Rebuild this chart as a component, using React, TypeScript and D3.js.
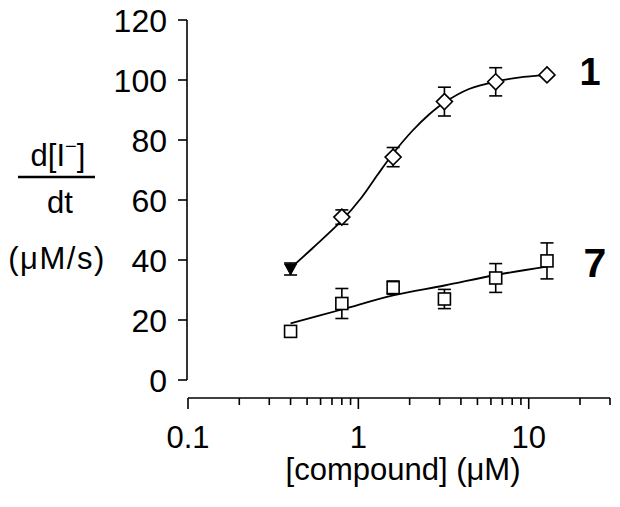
import React from "react";
import * as d3 from "d3";

// measured points (µM, µM/s)
const conc = [0.4, 0.8, 1.6, 3.2, 6.4, 12.8];
const rate1 = [37, 54.3, 74.3, 92.8, 99.4, 101.7];
const err1 = [2, 2.4, 3.2, 4.8, 4.7, 0];
const marker1 = ["triangle", "diamond", "diamond", "diamond", "diamond", "diamond"];
const rate7 = [16.2, 25.5, 30.8, 27, 34, 39.7];
const err7 = [0, 5, 2.2, 3.2, 4.8, 6];

// fitted curves
const fitConc1 = [0.4, 0.54, 0.8, 1.05, 1.3, 1.6, 2.07, 2.6, 3.2, 4.46, 6.4, 8.7, 12.8];
const fitRate1 = [37.3, 44, 53.2, 61, 68.5, 75.5, 83, 88.5, 92.5, 97, 99.5, 100.8, 101.7];
const fitConc7 = [0.4, 0.8, 1.6, 3.2, 6.4, 12.8];
const fitRate7 = [18.9, 23.5, 28.2, 31.5, 35, 37.8];

const yTicks = [0, 20, 40, 60, 80, 100, 120];
const xMajor = [0.1, 1, 10];
const xMajorLabels = ["0.1", "1", "10"];
const xMinor = [0.2, 0.3, 0.4, 0.5, 0.6, 0.7, 0.8, 0.9, 2, 3, 4, 5, 6, 7, 8, 9, 20, 30];

const font = "Arial, 'Liberation Sans', Helvetica, sans-serif";

const App: React.FC = () => {
  const width = 620;
  const height = 507;

  const x = d3.scaleLog().domain([0.1, 30]).range([188, 610]);
  const y = d3.scaleLinear().domain([0, 120]).range([380, 20]);
  const yAxisX = 187;
  const xAxisY = 398;

  const line = d3
    .line<[number, number]>()
    .x(d => x(d[0]))
    .y(d => y(d[1]))
    .curve(d3.curveCatmullRom.alpha(0.5));

  const fit1 = fitConc1.map((c, i) => [c, fitRate1[i]] as [number, number]);
  const fit7 = fitConc7.map((c, i) => [c, fitRate7[i]] as [number, number]);

  const errBar = (c: number, v: number, e: number, key: string) => {
    if (!e) return null;
    const cx = x(c);
    return (
      <g key={key} stroke="#000" strokeWidth={1.6}>
        <line x1={cx} x2={cx} y1={y(v + e)} y2={y(v - e)} />
        <line x1={cx - 6.5} x2={cx + 6.5} y1={y(v + e)} y2={y(v + e)} />
        <line x1={cx - 6.5} x2={cx + 6.5} y1={y(v - e)} y2={y(v - e)} />
      </g>
    );
  };

  const marker = (type: string, c: number, v: number, key: string) => {
    const cx = x(c);
    const cy = y(v);
    if (type === "triangle") {
      return (
        <path key={key} d={`M${cx - 6},${cy - 5}L${cx + 6},${cy - 5}L${cx},${cy + 6}Z`} fill="#000" stroke="#000" strokeWidth={1} />
      );
    }
    if (type === "diamond") {
      return (
        <path key={key} d={`M${cx},${cy - 8}L${cx + 8},${cy}L${cx},${cy + 8}L${cx - 8},${cy}Z`} fill="#fff" stroke="#000" strokeWidth={1.6} />
      );
    }
    return <rect key={key} x={cx - 6} y={cy - 6} width={12} height={12} fill="#fff" stroke="#000" strokeWidth={1.6} />;
  };

  return (
    <svg
      width={width}
      height={height}
      style={{ position: "absolute", left: 0, top: 0, background: "#fff", display: "block" }}
      fontFamily={font}
    >
      {/* y axis */}
      <line x1={yAxisX} x2={yAxisX} y1={y(120)} y2={y(0)} stroke="#000" strokeWidth={1.6} />
      {yTicks.map(t => (
        <g key={`yt${t}`}>
          <line x1={yAxisX - 9} x2={yAxisX} y1={y(t)} y2={y(t)} stroke="#000" strokeWidth={1.6} />
          <text x={167} y={y(t) + 11.5} textAnchor="end" fontSize={32}>
            {t}
          </text>
        </g>
      ))}

      {/* x axis */}
      <line x1={x(0.1)} x2={x(30)} y1={xAxisY} y2={xAxisY} stroke="#000" strokeWidth={1.6} />
      {xMinor.map(t => (
        <line key={`xm${t}`} x1={x(t)} x2={x(t)} y1={xAxisY} y2={xAxisY + 7} stroke="#000" strokeWidth={1.6} />
      ))}
      {xMajor.map((t, i) => (
        <g key={`xM${t}`}>
          <line x1={x(t)} x2={x(t)} y1={xAxisY} y2={xAxisY + 11} stroke="#000" strokeWidth={1.6} />
          <text x={x(t)} y={448} textAnchor="middle" fontSize={31}>
            {xMajorLabels[i]}
          </text>
        </g>
      ))}
      <text x={403} y={480} textAnchor="middle" fontSize={31}>
        [compound] (μM)
      </text>

      {/* y axis title */}
      <text x={58} y={166} textAnchor="middle" fontSize={31}>
        d[I<tspan dy={-13} fontSize={20}>−</tspan>
        <tspan dy={13}>]</tspan>
      </text>
      <line x1={18} x2={95} y1={177} y2={177} stroke="#000" strokeWidth={2.6} />
      <text x={60} y={213} textAnchor="middle" fontSize={31}>
        dt
      </text>
      <text x={57} y={269} textAnchor="middle" fontSize={31} letterSpacing={1.5}>
        (μM/s)
      </text>

      {/* fitted curves */}
      <path d={line(fit1) || ""} fill="none" stroke="#000" strokeWidth={1.8} />
      <path d={line(fit7) || ""} fill="none" stroke="#000" strokeWidth={1.8} />

      {/* error bars */}
      {conc.map((c, i) => errBar(c, rate1[i], err1[i], `e1${i}`))}
      {conc.map((c, i) => errBar(c, rate7[i], err7[i], `e7${i}`))}

      {/* markers */}
      {conc.map((c, i) => marker(marker1[i], c, rate1[i], `m1${i}`))}
      {conc.map((c, i) => marker("square", c, rate7[i], `m7${i}`))}

      {/* series labels */}
      <text x={590} y={84.5} textAnchor="middle" fontSize={38} fontWeight="bold">
        1
      </text>
      <text x={595} y={277} textAnchor="middle" fontSize={41} fontWeight="bold">
        7
      </text>
    </svg>
  );
};

export default App;
